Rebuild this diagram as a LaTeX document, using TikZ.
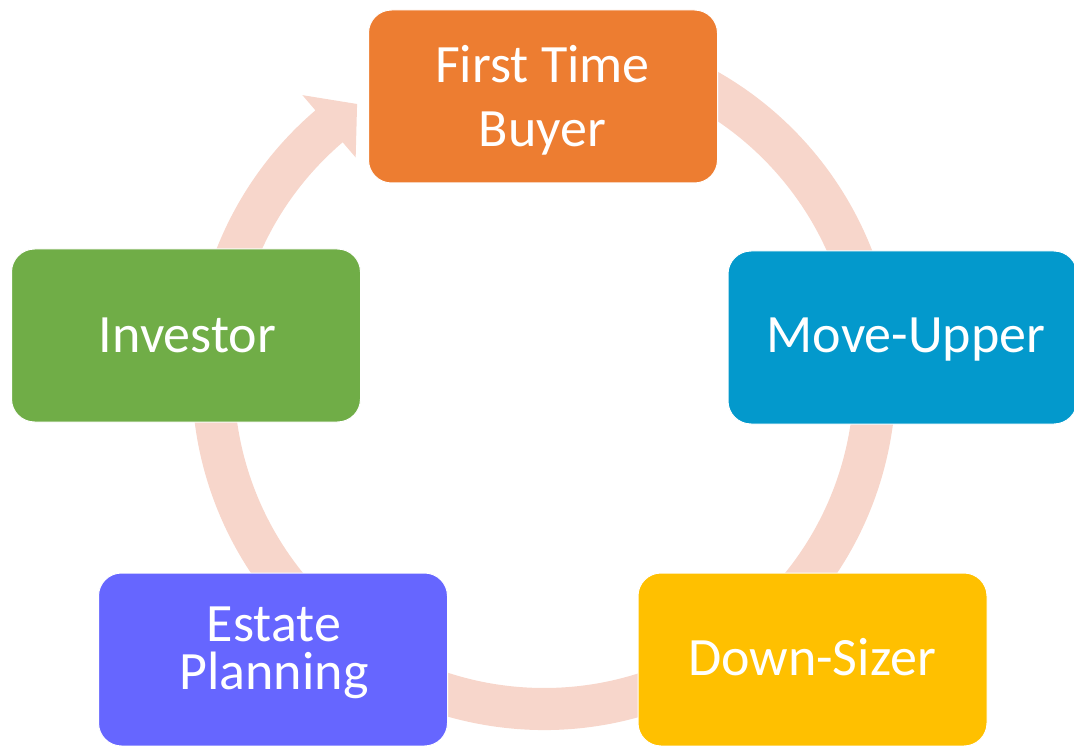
\documentclass[tikz,border=0pt]{standalone}
\usepackage{fontspec}
\setmainfont{Carlito}
\usetikzlibrary{calc}

\definecolor{ringpink}{HTML}{F7D6CB}
\definecolor{buyerorange}{HTML}{ED7D31}
\definecolor{upperblue}{HTML}{0399CC}
\definecolor{sizeryellow}{HTML}{FFC000}
\definecolor{estateviolet}{HTML}{6666FF}
\definecolor{investorgreen}{HTML}{70AD47}

\begin{document}
\begin{tikzpicture}[x=1pt, y=-1pt,
  stagebox/.style={rounded corners=23pt, minimum width=349pt, minimum height=173pt,
                   inner sep=0pt, draw=white, line width=1pt},
  stagetext/.style={text=white, align=center, anchor=base, inner sep=0pt,
                    font=\fontsize{54}{64}\selectfont}]
\useasboundingbox (0,0) rectangle (1074,746);

% circular arrow behind the stages, running clockwise
\coordinate (hub) at (544,378);
\fill[ringpink] ($(hub)+(-80:352)$) arc[start angle=-80, end angle=229.5, radius=352]
  -- ($(hub)+(229.5:372)$) -- ($(hub)+(235.7:331.7)$) -- ($(hub)+(229.5:290)$)
  -- ($(hub)+(229.5:310)$) arc[start angle=229.5, end angle=-80, radius=310] -- cycle;

% stages
\node[stagebox, fill=buyerorange]   (ftb) at (543,96.5)  {};
\node[stagebox, fill=upperblue]     (mu)  at (902.5,337.5) {};
\node[stagebox, fill=sizeryellow]   (ds)  at (812.5,659.5) {};
\node[stagebox, fill=estateviolet]  (ep)  at (273,659.5) {};
\node[stagebox, fill=investorgreen] (inv) at (186,335.5) {};

% stage labels (placed on the baseline of their last line)
\node[stagetext] (ftbtext) at (542.5,147) {First Time\\Buyer};
\node[stagetext] (mutext)  at (906,352) {Move-Upper};
\node[stagetext] (dstext)  at (812,675) {Down-Sizer};
\node[stagetext, font=\fontsize{54}{48}\selectfont] (eptext) at (274,689) {Estate\\Planning};
\node[stagetext] (invtext) at (187.5,352) {Investor};
\end{tikzpicture}
\end{document}
